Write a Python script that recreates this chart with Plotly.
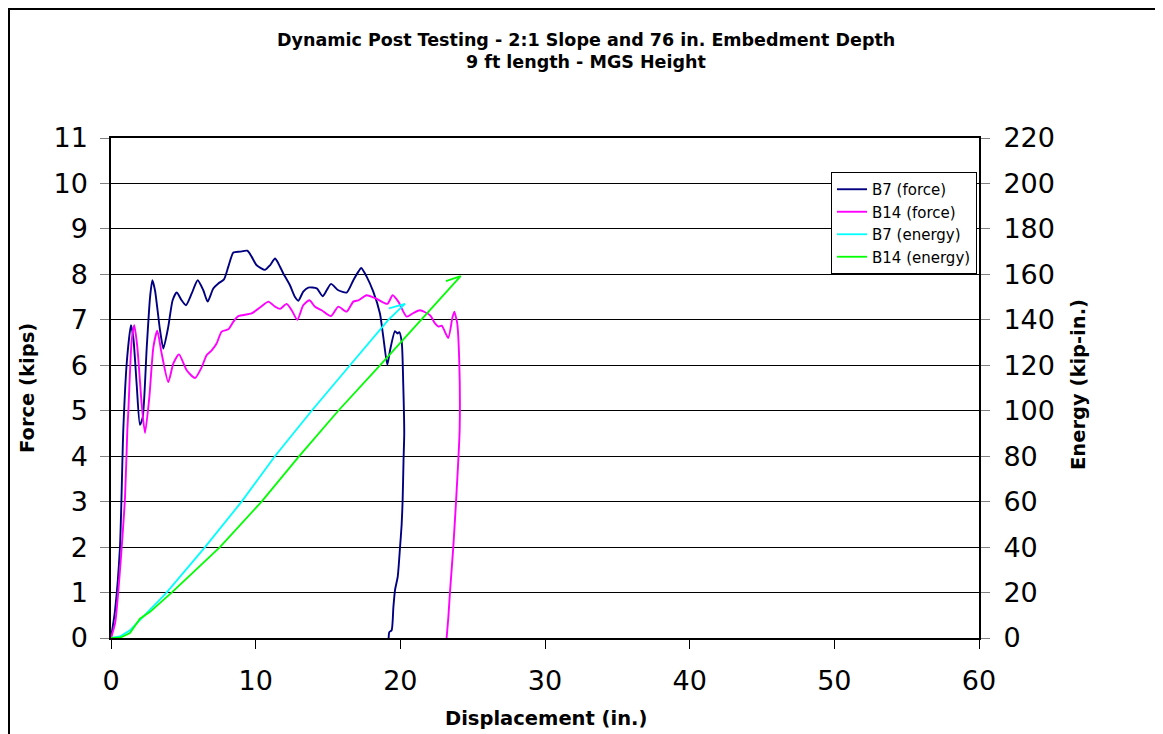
import plotly.graph_objects as go

# ---------------- data ----------------
b7_force_x = [0, 0.28, 0.62, 0.85, 1.1, 1.38, 1.54, 1.77, 2.0, 2.19, 2.47, 2.7, 2.86, 3.04, 3.39, 3.62,
              3.96, 4.26, 4.54, 4.88, 5.18, 5.58, 5.99, 6.38, 6.68, 7.07, 7.42, 7.81, 8.11, 8.46, 8.92,
              9.42, 9.72, 10.07, 10.65, 10.99, 11.34, 11.57, 11.91, 12.37, 12.72, 12.95, 13.29, 13.64,
              14.22, 14.63, 14.91, 15.21, 15.71, 16.29, 16.75, 17.1, 17.3, 17.67, 18.13, 18.59, 18.82,
              19.1, 19.29, 19.63, 19.8, 19.93, 20.1, 20.2, 20.27, 20.22, 20.16, 20.09, 19.98, 19.82,
              19.63, 19.52, 19.4, 19.24, 19.19]
b7_force_y = [0, 0.61, 2.0, 4.58, 6.1, 6.88, 6.62, 5.6, 4.69, 4.85, 6.39, 7.5, 7.87, 7.65, 6.77, 6.37,
              6.85, 7.43, 7.6, 7.43, 7.32, 7.58, 7.87, 7.65, 7.4, 7.69, 7.8, 7.89, 8.17, 8.48, 8.5,
              8.52, 8.39, 8.2, 8.1, 8.2, 8.35, 8.24, 8.02, 7.76, 7.5, 7.42, 7.62, 7.71,
              7.69, 7.52, 7.65, 7.79, 7.65, 7.6, 7.87, 8.06, 8.14, 7.95, 7.62, 7.14, 6.63,
              6.01, 6.33, 6.75, 6.7, 6.73, 6.5, 5.6, 4.5, 3.9, 3.04, 2.49, 2.0, 1.35,
              1.05, 0.68, 0.17, 0.13, 0.0]

b14_force_x = [0, 0.28, 0.51, 0.74, 0.97, 1.13, 1.2, 1.43, 1.61, 1.82, 2.12, 2.35, 2.65, 2.93, 3.2, 3.5,
               3.96, 4.31, 4.7, 5.23, 5.81, 6.27, 6.61, 6.96, 7.3, 7.65, 8.11, 8.46, 8.8, 9.72, 10.41,
               10.88, 11.34, 11.68, 12.14, 12.49, 12.88, 13.29, 13.71, 14.1, 14.56, 15.21, 15.71, 16.29,
               16.75, 17.1, 17.67, 18.36, 19.1, 19.47, 19.86, 20.44, 20.9, 21.36, 22.05, 22.4, 22.63,
               22.86, 23.31, 23.6, 23.73, 23.85, 23.93, 24.07, 24.1, 23.85, 23.66, 23.43, 23.32, 23.2]
b14_force_y = [0, 0.32, 1.05, 2.0, 3.1, 4.58, 5.0, 6.55, 6.88, 6.4, 5.15, 4.51, 5.3, 6.4, 6.76, 6.26,
               5.63, 6.04, 6.24, 5.89, 5.72, 5.96, 6.22, 6.33, 6.48, 6.74, 6.79, 6.96, 7.08, 7.14, 7.3,
               7.4, 7.29, 7.24, 7.35, 7.21, 7.0, 7.32, 7.43, 7.29, 7.21, 7.08, 7.29, 7.18,
               7.4, 7.43, 7.54, 7.46, 7.35, 7.54, 7.4, 7.07, 7.15, 7.21, 7.1, 6.92, 6.85,
               6.87, 6.6, 7.05, 7.18, 7.05, 6.93, 6.12, 4.58, 3.0, 2.0, 1.0, 0.46, 0.0]

b7_energy_x = [0, 0.62, 1.31, 2.0, 2.6, 3.84, 6.5, 9.03, 11.33, 13.87, 16.52, 19.17, 20.32, 19.21]
b7_energy_y = [0, 0.7, 3.4, 7.8, 12, 20, 40, 60, 80, 100, 120, 140, 147, 145]

b14_energy_x = [0, 0.62, 1.31, 2.0, 2.7, 4.19, 7.53, 10.41, 13.01, 15.71, 18.59, 21.47, 24.17, 23.15]
b14_energy_y = [0, 0.1, 2.2, 8.5, 11.5, 20, 40, 60, 80, 100, 120, 140, 159.2, 157]

title_lines = ["Dynamic Post Testing - 2:1 Slope and 76 in. Embedment Depth", "9 ft length - MGS Height"]
x_title = "Displacement (in.)"
y_title = "Force (kips)"
y2_title = "Energy (kip-in.)"

# ---------------- figure ----------------
FONT = "DejaVu Sans"
W, H = 1155, 726
L, T, PW, PH = 103, 130, 868, 500
R, B = W - L - PW, H - T - PH


def px(x):  # figure pixel -> paper x
    return (x - L) / PW


def py(y):  # figure pixel -> paper y
    return (T + PH - y) / PH


fig = go.Figure()
fig.add_trace(go.Scatter(x=b7_force_x, y=b7_force_y, name="B7 (force)", mode="lines",
                         line=dict(color="#000080", width=1.9, shape="spline", smoothing=0.6)))
fig.add_trace(go.Scatter(x=b14_force_x, y=b14_force_y, name="B14 (force)", mode="lines",
                         line=dict(color="#FF00FF", width=1.9, shape="spline", smoothing=0.6)))
fig.add_trace(go.Scatter(x=b7_energy_x, y=b7_energy_y, name="B7 (energy)", mode="lines", yaxis="y2",
                         line=dict(color="#00FFFF", width=1.8)))
fig.add_trace(go.Scatter(x=b14_energy_x, y=b14_energy_y, name="B14 (energy)", mode="lines", yaxis="y2",
                         line=dict(color="#00FF00", width=1.8)))

tickfont = dict(family=FONT, size=27, color="black")
fig.update_layout(
    width=W, height=H,
    margin=dict(l=L, r=R, t=T, b=B, pad=0),
    plot_bgcolor="white", paper_bgcolor="white",
    font=dict(family=FONT, color="black"),
    showlegend=True,
    legend=dict(x=px(823), y=py(164), xanchor="left", yanchor="top", bgcolor="white",
                bordercolor="black", borderwidth=1, font=dict(family=FONT, size=15, color="black"),
                itemwidth=30, tracegroupgap=0),
    xaxis=dict(range=[0, 60], tick0=0, dtick=10, ticks="outside", ticklen=9, tickcolor="black",
               showline=True, linecolor="black", linewidth=2, mirror=True, showgrid=False,
               zeroline=False, tickfont=tickfont, ticklabelstandoff=9),
    yaxis=dict(range=[0, 11], tick0=0, dtick=1, ticks="outside", ticklen=9, tickcolor="gray",
               showline=True, linecolor="black", linewidth=1.5, showgrid=True, gridcolor="black",
               gridwidth=1, zeroline=False, tickfont=tickfont, ticklabelstandoff=7),
    yaxis2=dict(range=[0, 220], tick0=0, dtick=20, overlaying="y", side="right", ticks="outside",
                ticklen=9, tickcolor="gray", showline=True, linecolor="black", linewidth=2,
                showgrid=False, zeroline=False, tickfont=tickfont, ticklabelstandoff=8),
)

ann = []
ann.append(dict(text="<b>%s</b>" % title_lines[0], x=px(578), y=py(32), xref="paper", yref="paper",
                showarrow=False, font=dict(family=FONT, size=17.5, color="black"),
                xanchor="center", yanchor="middle"))
ann.append(dict(text="<b>%s</b>" % title_lines[1], x=px(578), y=py(54), xref="paper", yref="paper",
                showarrow=False, font=dict(family=FONT, size=17.5, color="black"),
                xanchor="center", yanchor="middle"))
ann.append(dict(text="<b>%s</b>" % x_title, x=px(538), y=py(710), xref="paper", yref="paper",
                showarrow=False, font=dict(family=FONT, size=19.5, color="black"),
                xanchor="center", yanchor="middle"))
ann.append(dict(text="<b>%s</b>" % y_title, x=px(19), y=py(380), xref="paper", yref="paper", textangle=-90,
                showarrow=False, font=dict(family=FONT, size=19.5, color="black"),
                xanchor="center", yanchor="middle"))
ann.append(dict(text="<b>%s</b>" % y2_title, x=px(1070), y=py(377), xref="paper", yref="paper", textangle=-90,
                showarrow=False, font=dict(family=FONT, size=19.5, color="black"),
                xanchor="center", yanchor="middle"))
fig.update_layout(annotations=ann)

# outer chart frame (left and top edges visible, right/bottom run past the picture)
fig.add_shape(type="rect", xref="paper", yref="paper",
              x0=px(1), x1=px(1180), y0=py(760), y1=py(1),
              line=dict(color="black", width=2), fillcolor="rgba(0,0,0,0)", layer="below")

fig.write_html("out.html")
